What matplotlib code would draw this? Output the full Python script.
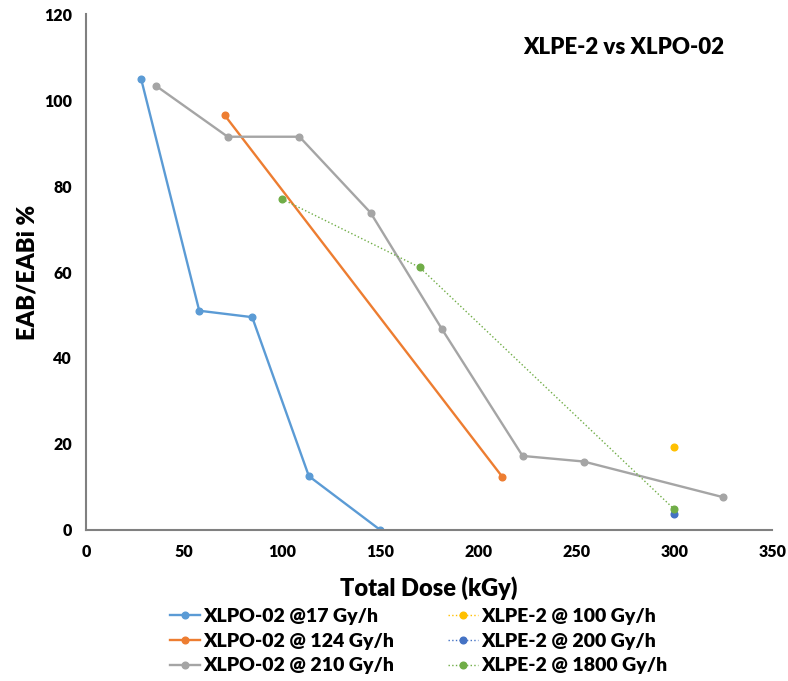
import matplotlib.pyplot as plt

plt.rcParams['font.family'] = ['Lato', 'DejaVu Sans']
plt.rcParams['font.weight'] = 'bold'

# XLPO-02 series
x_17 = [28.2, 57.8, 84.8, 113.7, 150]
y_17 = [104.9, 51.0, 49.5, 12.5, 0]
x_124 = [70.8, 212.4]
y_124 = [96.5, 12.3]
x_210 = [35.9, 72.3, 108.9, 145.2, 181.6, 222.7, 253.8, 324.9]
y_210 = [103.3, 91.5, 91.5, 73.8, 46.7, 17.2, 15.9, 7.6]

# XLPE-2 series
x_100 = [300]
y_100 = [19.2]
x_200 = [300]
y_200 = [3.7]
x_1800 = [100, 170.2, 300]
y_1800 = [77.0, 61.1, 4.8]

fig = plt.figure(figsize=(7.88, 6.81), dpi=100)
ax = fig.add_axes([0.109, 0.222, 0.871, 0.757])

ax.plot(x_17, y_17, color='#5B9BD5', lw=1.7, marker='o', ms=4.8, label='XLPO-02 @17 Gy/h')
ax.plot(x_124, y_124, color='#ED7D31', lw=1.7, marker='o', ms=4.8, label='XLPO-02 @ 124 Gy/h')
ax.plot(x_210, y_210, color='#A5A5A5', lw=1.7, marker='o', ms=4.8, label='XLPO-02 @ 210 Gy/h')
ax.plot(x_100, y_100, color='#FFC000', lw=1, ls=':', marker='o', ms=4.8, label='XLPE-2 @ 100 Gy/h')
ax.plot(x_200, y_200, color='#4472C4', lw=1, ls=':', marker='o', ms=4.8, label='XLPE-2 @ 200 Gy/h')
ax.plot(x_1800, y_1800, color='#70AD47', lw=1, ls=':', marker='o', ms=4.8, label='XLPE-2 @ 1800 Gy/h')

ax.set_xlim(0, 350)
ax.set_ylim(0, 120)
ax.set_xticks(range(0, 351, 50))
ax.set_yticks(range(0, 121, 20))
ax.tick_params(length=0, labelsize=11.5, pad=10)
for lab in ax.get_xticklabels() + ax.get_yticklabels():
    lab.set_fontweight('heavy')
for s in ['top', 'right']:
    ax.spines[s].set_visible(False)
for s in ['left', 'bottom']:
    ax.spines[s].set_color('#808080')
    ax.spines[s].set_linewidth(1.5)

ax.set_xlabel('Total Dose (kGy)', fontsize=17, fontweight='heavy', labelpad=12)
ax.set_ylabel('EAB/EABi %', fontsize=17, fontweight='heavy', labelpad=4)
ax.text(0.783, 0.935, 'XLPE-2 vs XLPO-02', transform=ax.transAxes, ha='center', va='center',
        fontsize=16, fontweight='heavy')

fig.legend(loc='lower center', bbox_to_anchor=(0.531, -0.016), ncol=2, frameon=False,
           handlelength=1.55, handletextpad=0.15, columnspacing=2.8, labelspacing=0.4,
           prop={'weight': 'heavy', 'size': 14})

fig.savefig('out.png', dpi=100)
